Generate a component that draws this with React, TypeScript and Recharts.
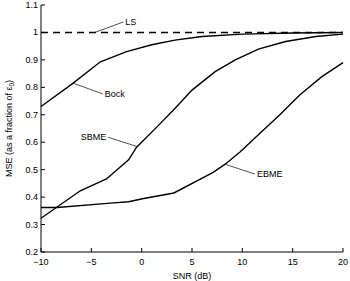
import React from 'react';
import { LineChart, Line, XAxis, YAxis, ReferenceLine, ReferenceDot, Label } from 'recharts';

// SNR (dB) / MSE values
const lsSnr = [-10, 20];
const lsMse = [1, 1];
const bockSnr = [-10, -7, -4.1, -1.5, 1, 3.3, 6, 10, 15, 20];
const bockMse = [0.73, 0.81, 0.893, 0.93, 0.955, 0.972, 0.985, 0.994, 0.998, 1.0];
const sbmeSnr = [-10, -6.1, -3.5, -1.3, -0.5, 1.5, 3.3, 5, 7.3, 9.3, 11.6, 14.3, 17.3, 20];
const sbmeMse = [0.323, 0.423, 0.466, 0.536, 0.582, 0.655, 0.723, 0.79, 0.857, 0.9, 0.939, 0.967, 0.985, 0.994];
const ebmeSnr = [-10, -8.4, -3.1, -1.3, 0.2, 3.2, 7.1, 8.3, 9.8, 11.75, 13.7, 15.7, 17.9, 20];
const ebmeMse = [0.362, 0.362, 0.378, 0.383, 0.395, 0.415, 0.49, 0.52, 0.565, 0.633, 0.699, 0.772, 0.839, 0.89];

const xTicks = [-10, -5, 0, 5, 10, 15, 20];
const yTicks = [0.2, 0.3, 0.4, 0.5, 0.6, 0.7, 0.8, 0.9, 1, 1.1];

// annotation leader lines: [from, to] and where the text goes
const notes = [
  { text: 'LS', from: [-4.64, 1.0], to: [-1.83, 1.038], side: 'right' },
  { text: 'Bock', from: [-6.79, 0.815], to: [-3.87, 0.776], side: 'right' },
  { text: 'SBME', from: [-0.44, 0.584], to: [-3.32, 0.618], side: 'left' },
  { text: 'EBME', from: [8.27, 0.52], to: [11.25, 0.484], side: 'right' },
];

const toPts = (xs: number[], ys: number[]) => xs.map((x, i) => ({ snr: x, mse: ys[i] }));

const fmt = (v: number) => (v < 0 ? '\u2212' + Math.abs(v) : String(v));

const BottomTick = ({ x, y, payload }: any) => (
  <g>
    <line x1={x} x2={x} y1={y} y2={y - 4} stroke="#000" />
    <text x={x} y={y + 13} textAnchor="middle" fontSize={9} fill="#000">{fmt(payload.value)}</text>
  </g>
);
const TopTick = ({ x, y }: any) => <line x1={x} x2={x} y1={y} y2={y + 4} stroke="#000" />;
const LeftTick = ({ x, y, payload }: any) => (
  <g>
    <line x1={x} x2={x + 4} y1={y} y2={y} stroke="#000" />
    <text x={x - 3} y={y + 3} textAnchor="end" fontSize={9} fill="#000">{fmt(payload.value)}</text>
  </g>
);
const RightTick = ({ x, y }: any) => <line x1={x} x2={x - 4} y1={y} y2={y} stroke="#000" />;

const YTitle = ({ viewBox }: any) => {
  const cx = 12;
  const cy = viewBox.y + viewBox.height / 2;
  return (
    <text x={cx} y={cy} transform={`rotate(-90 ${cx} ${cy})`} textAnchor="middle" fontSize={9} fill="#000">
      MSE (as a fraction of ε<tspan fontSize={6.5} dy={2}>0</tspan><tspan dy={-2}>)</tspan>
    </text>
  );
};

export default function App() {
  return (
    <div style={{ position: 'absolute', left: 0, top: 0 }}>
      <LineChart
        width={350}
        height={281}
        margin={{ top: 5, right: 7, bottom: 0, left: 0 }}
        style={{ fontFamily: '"Liberation Sans", Arial, sans-serif' }}
      >
        <XAxis
          dataKey="snr"
          type="number"
          domain={[-10, 20]}
          ticks={xTicks}
          height={29}
          tickSize={0}
          tickMargin={0}
          tickLine={false}
          axisLine={{ stroke: '#000' }}
          tick={<BottomTick />}
          interval={0}
        >
          <Label value="SNR (dB)" position="insideBottom" offset={2} fontSize={9} fill="#000" />
        </XAxis>
        <XAxis
          xAxisId="top"
          orientation="top"
          dataKey="snr"
          type="number"
          domain={[-10, 20]}
          ticks={xTicks}
          height={0}
          tickSize={0}
          tickMargin={0}
          tickLine={false}
          axisLine={{ stroke: '#000' }}
          tick={<TopTick />}
          interval={0}
        />
        <YAxis
          type="number"
          domain={[0.2, 1.1]}
          ticks={yTicks}
          width={41}
          tickSize={0}
          tickMargin={0}
          tickLine={false}
          axisLine={{ stroke: '#000' }}
          tick={<LeftTick />}
          interval={0}
        >
          <Label content={<YTitle />} />
        </YAxis>
        <YAxis
          yAxisId="right"
          orientation="right"
          type="number"
          domain={[0.2, 1.1]}
          ticks={yTicks}
          width={0}
          tickSize={0}
          tickMargin={0}
          tickLine={false}
          axisLine={{ stroke: '#000' }}
          tick={<RightTick />}
          interval={0}
        />
        <Line data={toPts(lsSnr, lsMse)} dataKey="mse" type="linear" stroke="#000" strokeWidth={1.5}
          strokeDasharray="7 5" dot={false} isAnimationActive={false} />
        <Line data={toPts(bockSnr, bockMse)} dataKey="mse" type="linear" stroke="#000" strokeWidth={1.4}
          dot={false} isAnimationActive={false} />
        <Line data={toPts(sbmeSnr, sbmeMse)} dataKey="mse" type="linear" stroke="#000" strokeWidth={1.4}
          dot={false} isAnimationActive={false} />
        <Line data={toPts(ebmeSnr, ebmeMse)} dataKey="mse" type="linear" stroke="#000" strokeWidth={1.4}
          dot={false} isAnimationActive={false} />
        {notes.map((n) => (
          <ReferenceLine
            key={'l' + n.text}
            segment={[{ x: n.from[0], y: n.from[1] }, { x: n.to[0], y: n.to[1] }]}
            stroke="#222"
            strokeWidth={0.8}
            ifOverflow="visible"
          />
        ))}
        {notes.map((n) => (
          <ReferenceDot
            key={'d' + n.text}
            x={n.to[0]}
            y={n.to[1]}
            r={0}
            fill="none"
            stroke="none"
            ifOverflow="visible"
            label={{ value: n.text, position: n.side, offset: 2, fontSize: 9, fill: '#000' }}
          />
        ))}
      </LineChart>
    </div>
  );
}
